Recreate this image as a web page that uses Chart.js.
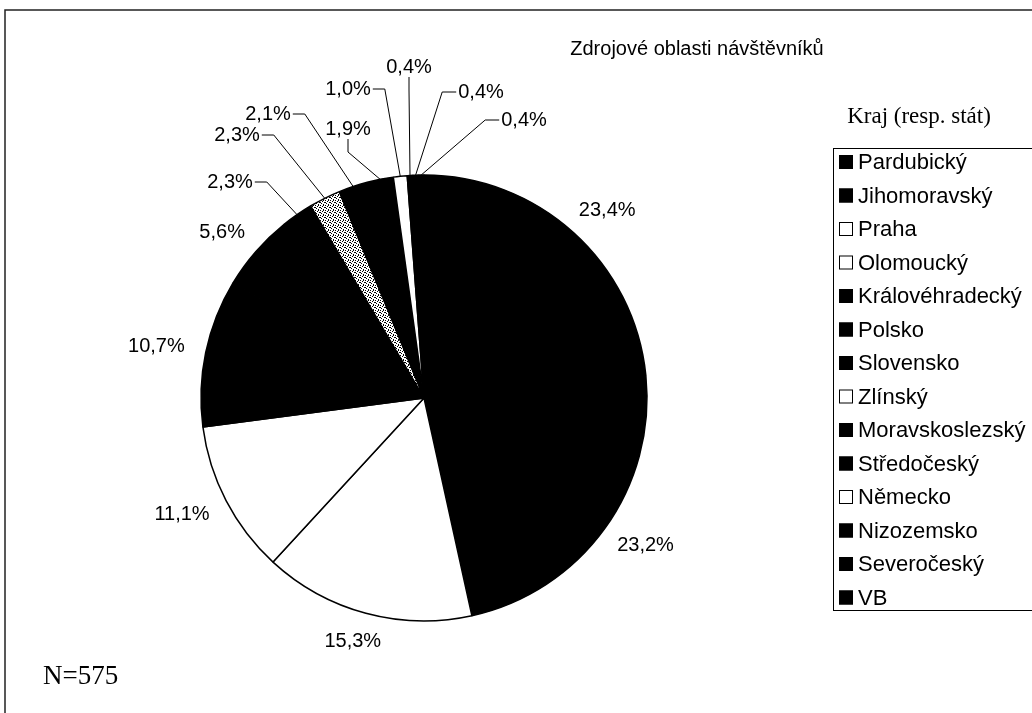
<!DOCTYPE html>
<html>
<head>
<meta charset="utf-8">
<script src="https://cdn.jsdelivr.net/npm/chart.js@4.4.1/dist/chart.umd.min.js"></script>
<style>
  html, body { margin: 0; padding: 0; background: #fff; }
  #wrap { width: 1032px; height: 713px; }
</style>
</head>
<body>
<div id="wrap"><canvas id="graf"></canvas></div>
<script>
// data
const kraje = ["Pardubický", "Jihomoravský", "Praha", "Olomoucký", "Královéhradecký", "Polsko",
  "Slovensko", "Zlínský", "Moravskoslezský", "Středočeský", "Německo", "Nizozemsko", "Severočeský", "VB"];
const podily = [23.4, 23.2, 15.3, 11.1, 10.7, 5.6, 2.3, 2.3, 2.1, 1.9, 1.0, 0.4, 0.4, 0.4];
const titulek = "Zdrojové oblasti návštěvníků";
const nadpisLegendy = "Kraj (resp. stát)";
const pocet = "N=575";

// speckled fill for Zlínský
function vzorek() {
  const c = document.createElement("canvas");
  c.width = 5; c.height = 5;
  const g = c.getContext("2d");
  g.fillStyle = "#fff";
  g.fillRect(0, 0, 5, 5);
  g.fillStyle = "#000";
  [[0,0],[2,1],[4,2],[1,3],[3,4],[3,0],[0,2]].forEach(p => g.fillRect(p[0], p[1], 1, 1));
  return g.createPattern(c, "repeat");
}

const W = "#ffffff", B = "#000000";
const barvy = [B, B, W, W, B, B, B, "zl", B, B, W, B, B, B];
const barvyLegendy = [B, B, W, W, B, B, B, W, B, B, W, B, B, B];

// label placement for the thin slices (offset from pie centre, leader side)
const vodítka = {
  6: { dx: -194, dy: -216, side: "right" },
  7: { dx: -187, dy: -263, side: "right" },
  8: { dx: -156, dy: -284, side: "right" },
  9: { dx: -76, dy: -269, side: "below" },
  10: { dx: -76, dy: -309, side: "right" },
  11: { dx: -15, dy: -331, side: "below" },
  12: { dx: 57, dy: -306, side: "left" },
  13: { dx: 100, dy: -278, side: "left" }
};

const fmt = v => v.toFixed(1).replace(".", ",") + "%";

const popisky = {
  id: "popisky",
  beforeDraw(chart) {
    const ctx = chart.ctx;
    ctx.save();
    ctx.strokeStyle = "#222";
    ctx.lineWidth = 1.5;
    ctx.strokeRect(5, 10, 1040, 720);
    ctx.restore();
  },
  afterDraw(chart) {
    const ctx = chart.ctx;
    ctx.save();
    ctx.fillStyle = "#000";
    ctx.textAlign = "center";
    ctx.textBaseline = "middle";

    ctx.font = "20px 'Liberation Sans', Arial, sans-serif";
    ctx.fillText(titulek, 697, 49);

    ctx.font = "23px 'Liberation Serif', 'Times New Roman', serif";
    ctx.fillText(nadpisLegendy, 919, 117);

    ctx.textAlign = "left";
    ctx.font = "27px 'Liberation Serif', 'Times New Roman', serif";
    ctx.fillText(pocet, 43, 677);

    // legend
    ctx.strokeStyle = "#000";
    ctx.lineWidth = 1;
    ctx.strokeRect(833.5, 148.5, 220, 462);
    ctx.font = "22px 'Liberation Sans', Arial, sans-serif";
    kraje.forEach((k, i) => {
      const y = 162 + i * 33.5;
      ctx.fillStyle = barvyLegendy[i];
      ctx.fillRect(839, y - 7, 14, 14);
      ctx.strokeStyle = "#000";
      ctx.strokeRect(839.5, y - 6.5, 13, 13);
      ctx.fillStyle = "#000";
      ctx.fillText(k, 858, y + 1);
    });

    // percentage labels
    ctx.font = "20px 'Liberation Sans', Arial, sans-serif";
    ctx.textAlign = "center";
    ctx.lineWidth = 1;
    const meta = chart.getDatasetMeta(0);
    const mezera = 22;
    meta.data.forEach((arc, i) => {
      const p = arc.getProps(["x", "y", "startAngle", "endAngle", "outerRadius"], true);
      const mid = (p.startAngle + p.endAngle) / 2;
      const ux = Math.cos(mid), uy = Math.sin(mid);
      const text = fmt(podily[i]);
      const w = ctx.measureText(text).width, h = 15;
      const v = vodítka[i];
      if (!v) {
        const px = p.x + ux * (p.outerRadius + mezera);
        const py = p.y + uy * (p.outerRadius + mezera);
        ctx.fillText(text, px + ux * w / 2, py + uy * h / 2);
        return;
      }
      const tx = p.x + v.dx, ty = p.y + v.dy;
      ctx.fillText(text, tx, ty);
      const ex = p.x + ux * p.outerRadius, ey = p.y + uy * p.outerRadius;
      let pts;
      if (v.side === "right") pts = [[tx + w / 2 + 2, ty], [tx + w / 2 + 14, ty], [ex, ey]];
      else if (v.side === "left") pts = [[tx - w / 2 - 2, ty], [tx - w / 2 - 16, ty], [ex, ey]];
      else pts = [[tx, ty + 10], [tx, ty + 23], [ex, ey]];
      ctx.beginPath();
      ctx.moveTo(pts[0][0], pts[0][1]);
      pts.slice(1).forEach(q => ctx.lineTo(q[0], q[1]));
      ctx.strokeStyle = "#000";
      ctx.stroke();
    });
    ctx.restore();
  }
};

document.addEventListener("DOMContentLoaded", () => {
  const ctx = document.getElementById("graf").getContext("2d");
  const vz = vzorek();

  new Chart(ctx, {
    type: "pie",
    data: {
      labels: kraje,
      datasets: [{
        data: podily,
        backgroundColor: barvy.map(b => b === "zl" ? vz : b),
        borderColor: "#000",
        borderWidth: 1.5,
        hoverOffset: 0
      }]
    },
    options: {
      responsive: true,
      maintainAspectRatio: false,
      animation: false,
      radius: 223,
      layout: { padding: { left: 150, right: 334, top: 176, bottom: 93 } },
      plugins: {
        legend: { display: false },
        tooltip: { enabled: false },
        title: { display: false }
      }
    },
    plugins: [popisky]
  });
});
</script>
</body>
</html>
